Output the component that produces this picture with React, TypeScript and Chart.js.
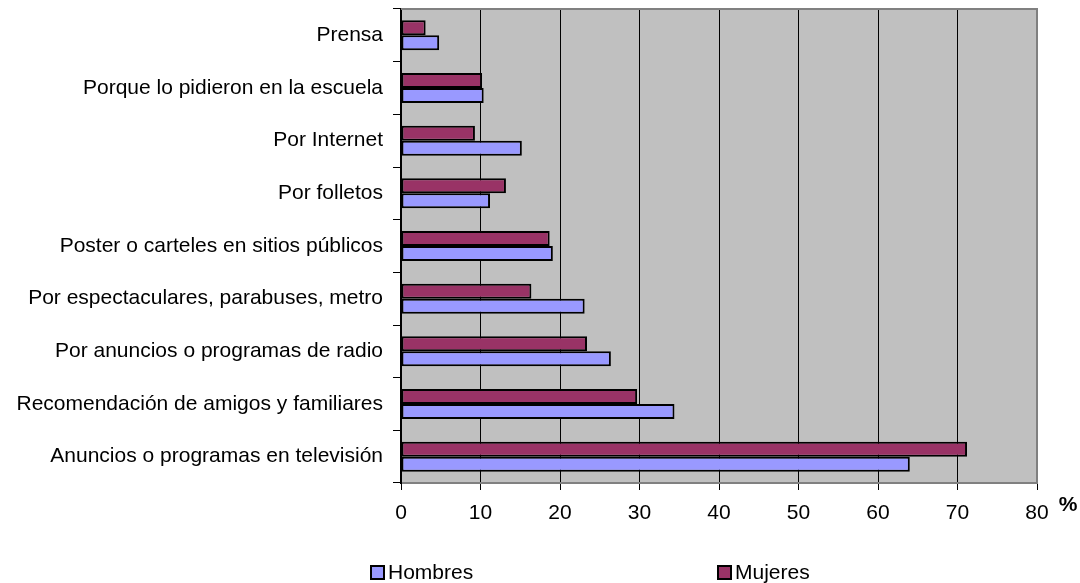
import React, { useEffect, useRef } from "react";
import { Chart, registerables } from "chart.js";

Chart.register(...registerables);

const categories = [
  "Prensa",
  "Porque lo pidieron en la escuela",
  "Por Internet",
  "Por folletos",
  "Poster o carteles en sitios públicos",
  "Por espectaculares, parabuses, metro",
  "Por anuncios o programas de radio",
  "Recomendación de amigos y familiares",
  "Anuncios o programas en televisión",
];

const hombres = [4.8, 10.4, 15.2, 11.2, 19.1, 23.1, 26.4, 34.4, 64.0];
const mujeres = [3.1, 10.2, 9.3, 13.2, 18.7, 16.4, 23.4, 29.7, 71.2];

const xTicks = [0, 10, 20, 30, 40, 50, 60, 70, 80];
const unitLabel = "%";
const seriesNames = ["Hombres", "Mujeres"];

const COLOR_H = "#9999FF";
const COLOR_M = "#993366";
const FONT = "'Liberation Sans', Arial, sans-serif";

export default function App() {
  const canvasRef = useRef<HTMLCanvasElement | null>(null);

  useEffect(() => {
    document.body.style.margin = "0";
    const canvas = canvasRef.current;
    if (!canvas) return;

    const bgPlugin = {
      id: "plotBg",
      beforeDraw(chart: any) {
        const { ctx, chartArea } = chart;
        ctx.save();
        ctx.fillStyle = "#C0C0C0";
        ctx.fillRect(chartArea.left, chartArea.top, chartArea.right - chartArea.left, chartArea.bottom - chartArea.top);
        ctx.restore();
      },
      afterDraw(chart: any) {
        const { ctx, chartArea } = chart;
        ctx.save();
        ctx.strokeStyle = "#808080";
        ctx.lineWidth = 2;
        ctx.beginPath();
        ctx.moveTo(chartArea.left, chartArea.top);
        ctx.lineTo(chartArea.right, chartArea.top);
        ctx.lineTo(chartArea.right, chartArea.bottom);
        ctx.stroke();
        ctx.fillStyle = "#000";
        ctx.font = `bold 21px ${FONT}`;
        ctx.textAlign = "center";
        ctx.textBaseline = "middle";
        ctx.fillText(unitLabel, chartArea.right + 31, chartArea.bottom + 22);
        ctx.font = `21px ${FONT}`;
        ctx.textAlign = "left";
        const items = [
          { name: seriesNames[0], color: COLOR_H, x: 371 },
          { name: seriesNames[1], color: COLOR_M, x: 718 },
        ];
        const ly = 573;
        items.forEach((it) => {
          ctx.fillStyle = it.color;
          ctx.fillRect(it.x, ly - 7, 13, 13);
          ctx.strokeStyle = "#000";
          ctx.lineWidth = 2;
          ctx.strokeRect(it.x, ly - 7, 13, 13);
          ctx.fillStyle = "#000";
          ctx.fillText(it.name, it.x + 17, ly);
        });
        ctx.restore();
      },
    };

    const chart = new Chart(canvas, {
      type: "bar",
      data: {
        labels: categories,
        datasets: [
          {
            label: seriesNames[1],
            data: mujeres,
            backgroundColor: COLOR_M,
            borderColor: "#000",
            borderWidth: 2,
            borderSkipped: false,
            categoryPercentage: 0.57,
            barPercentage: 1.0,
          },
          {
            label: seriesNames[0],
            data: hombres,
            backgroundColor: COLOR_H,
            borderColor: "#000",
            borderWidth: 2,
            borderSkipped: false,
            categoryPercentage: 0.57,
            barPercentage: 1.0,
          },
        ],
      },
      options: {
        indexAxis: "y",
        animation: false,
        responsive: true,
        maintainAspectRatio: false,
        layout: { padding: { top: 9, right: 43, left: 0, bottom: 0 } },
        plugins: {
          legend: { display: false },
          tooltip: { enabled: false },
        },
        scales: {
          x: {
            type: "linear",
            min: 0,
            max: 80,
            afterBuildTicks: (scale: any) => {
              scale.ticks = xTicks.map((v) => ({ value: v }));
            },
            afterFit: (scale: any) => {
              scale.height = 100;
              scale.paddingLeft = 0;
              scale.paddingRight = 0;
            },
            ticks: {
              color: "#000",
              font: { family: FONT, size: 21 },
              padding: 11,
              maxRotation: 0,
              autoSkip: false,
            },
            grid: {
              display: true,
              drawOnChartArea: true,
              drawTicks: true,
              tickLength: 7,
              color: (ctx: any) => (ctx.tick && (ctx.tick.value === 80 || ctx.tick.value === 0) ? "#808080" : "#000"),
              tickColor: "#000",
              lineWidth: 1,
            },
            border: { display: true, color: "#808080", width: 2 },
          },
          y: {
            type: "category",
            afterFit: (scale: any) => {
              scale.width = 401;
              scale.paddingTop = 0;
              scale.paddingBottom = 0;
            },
            ticks: {
              color: "#000",
              font: { family: FONT, size: 21 },
              padding: 10,
              autoSkip: false,
            },
            grid: {
              display: true,
              drawOnChartArea: false,
              drawTicks: true,
              tickLength: 8,
              offset: true,
              tickColor: "#000",
              color: "#000",
            },
            border: { display: true, color: "#000", width: 2 },
          },
        },
      },
      plugins: [bgPlugin],
    });

    return () => {
      chart.destroy();
    };
  }, []);

  return (
    <div style={{ position: "absolute", left: 0, top: 0, width: 1080, height: 583 }}>
      <canvas ref={canvasRef} />
    </div>
  );
}
